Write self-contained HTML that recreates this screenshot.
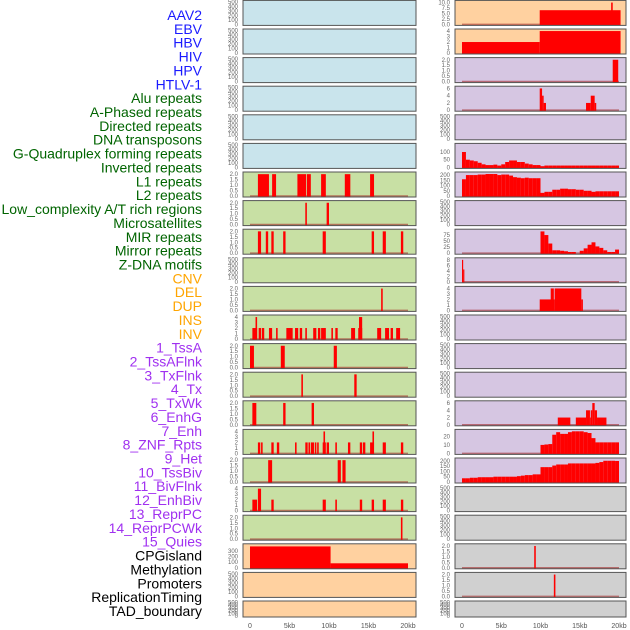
<!DOCTYPE html>
<html><head><meta charset="utf-8"><style>
html,body{margin:0;padding:0;background:#fff;}
svg{display:block;font-family:"Liberation Sans",sans-serif;}
</style></head><body>
<svg id="chart" width="630" height="630" viewBox="0 0 630 630"></svg>
<script>
const labels = ["AAV2","EBV","HBV","HIV","HPV","HTLV-1","Alu repeats","A-Phased repeats","Directed repeats","DNA transposons","G-Quadruplex forming repeats","Inverted repeats","L1 repeats","L2 repeats","Low_complexity A/T rich regions","Microsatellites","MIR repeats","Mirror repeats","Z-DNA motifs","CNV","DEL","DUP","INS","INV","1_TssA","2_TssAFlnk","3_TxFlnk","4_Tx","5_TxWk","6_EnhG","7_Enh","8_ZNF_Rpts","9_Het","10_TssBiv","11_BivFlnk","12_EnhBiv","13_ReprPC","14_ReprPCWk","15_Quies","CPGisland","Methylation","Promoters","ReplicationTiming","TAD_boundary"];
const labelColors = ["#1a1aff","#1a1aff","#1a1aff","#1a1aff","#1a1aff","#1a1aff"].concat(Array(13).fill("#006400"),Array(5).fill("#ffa500"),Array(15).fill("#a030f0"),Array(5).fill("#000"));
const xTickLabels = ["0","5kb","10kb","15kb","20kb"];
const xTickValues = [0,5,10,15,20];
// bars: [startKb, endKb, value]
const aluBars = [[1.0,2.4,2],[2.8,3.3,2],[6.0,7.1,2],[7.2,7.7,2],[9.0,9.6,2],[12.0,12.7,2],[15.2,15.7,2]];
const aPhasedBars = [[7.0,7.2,2],[9.7,10.0,2]];
const directedBars = [[1.0,1.4,2],[2.0,2.3,2],[2.7,3.0,2],[4.2,4.5,2],[9.2,9.6,2],[15.4,15.7,2],[16.8,17.2,2],[19.1,19.4,2]];
const gquadBars = [[16.6,16.8,2]];
const invertedBars = [[0.3,0.9,2],[0.7,0.9,4],[1.1,1.4,2],[1.5,1.8,2],[2.4,2.8,2],[3.3,3.5,2],[4.6,5.4,2],[5.7,6.1,2],[6.3,6.6,2],[7.0,7.2,2],[8.0,8.4,2],[8.6,8.9,2],[9.0,9.6,2],[10.3,10.5,2],[10.8,11.1,2],[12.8,13.3,2],[13.7,14.2,2],[13.8,14.2,4],[16.1,16.6,2],[17.1,17.6,2],[17.8,18.1,2],[18.5,19.0,2]];
const l1Bars = [[0.0,0.5,2],[3.9,4.4,2],[10.6,11.0,2]];
const l2Bars = [[6.5,6.7,2],[13.2,13.5,2]];
const lowCompBars = [[0.3,0.8,2],[4.2,4.5,2],[7.8,8.1,2]];
const microBars = [[1.0,1.3,2],[1.4,1.6,2],[2.7,3.0,2],[3.4,3.7,2],[5.7,5.9,2],[7.0,7.3,2],[7.4,7.6,2],[7.7,8.1,2],[8.2,8.4,2],[8.5,8.7,2],[9.2,9.6,2],[9.3,9.5,4],[9.7,10.0,2],[10.8,11.0,2],[12.4,12.7,2],[13.9,14.2,2],[14.3,14.6,2],[15.2,15.7,2],[15.5,15.7,4],[16.8,17.2,2],[19.1,19.4,2]];
const mirBars = [[2.3,2.8,2],[11.1,11.5,2],[11.7,12.1,2]];
const mirrorBars = [[0.3,0.9,2],[1.0,1.4,4],[2.7,3.0,2],[9.2,9.6,2],[10.8,11.0,2],[13.9,14.2,2],[15.4,15.7,2],[16.8,17.2,2],[19.1,19.4,2]];
const zdnaBars = [[19.1,19.3,2]];
const cnvBars = [[0.0,10.2,380],[10.2,20.0,80]];
const insBars = [[9.9,20.2,6.5],[19.0,19.2,10]];
const invBars = [[0.0,9.9,2],[9.9,20.2,4]];
const tssABars = [[19.2,19.9,2]];
const tssAFlnkBars = [[9.9,10.2,6],[10.2,10.4,4],[10.4,10.7,2],[15.8,16.4,2],[16.4,16.9,4],[16.9,17.1,2]];
const txBins = [100,50,45,40,30,20,15,15,18,12,20,35,45,45,35,35,25,20,15,15,8,12,12,12,12,12,12,12,12,12,12,12,12,12,12,12,12,12,12,12];
const txWkBins = [160,200,200,200,205,205,210,210,210,200,205,205,195,180,175,170,175,170,170,170,30,40,40,60,60,70,70,65,65,60,60,50,50,40,45,45,45,45,45,45];
const enhBins = [0,0,0,0,0,0,0,0,0,0,0,0,0,0,0,0,0,0,0,0,90,75,40,12,12,10,8,5,5,0,10,20,35,45,28,22,12,5,5,15];
const znfBars = [[0.0,0.15,8],[0.15,0.3,4.5]];
const hetBars = [[9.9,11.8,2],[11.3,11.7,4],[11.8,15.2,4],[15.2,15.4,2]];
const reprPCBars = [[12.2,13.8,2],[14.5,15.8,2],[15.8,16.3,4],[16.3,16.4,2],[16.4,16.6,4],[16.6,16.9,6],[16.9,17.2,4],[17.2,18.4,2]];
const reprPCWkBins = [0,0,0,0,0,0,0,0,0,0,0,0,0,0,0,0,0,0,0,0,10,10.5,11,22,25,23,23,25,26,26,26,25,24,18,13,13,13,13,13,13];
const quiesBins = [35,35,40,40,45,45,45,45,50,50,50,50,50,50,55,60,65,65,72,72,140,140,140,155,165,165,165,175,175,175,175,175,175,175,180,188,200,200,200,198];
const promoterBars = [[9.2,9.4,2]];
const replBars = [[11.7,11.9,2]];

const C = {blue:"#c9e4ec",green:"#c8e0a4",orange:"#ffd1a0",purple:"#d6c6e2",gray:"#d0d0d0"};
const E = {ticks:[0,100,200,300,400,500],lim:500};
const T2 = [0,0.5,1,1.5,2], T4=[0,1,2,3,4];
function bins(a){const out=[];a.forEach((v,i)=>{if(v>0)out.push([i*0.5,i*0.5+0.5,v]);});return out;}
const leftPanels = [
 {bg:C.blue,...E},{bg:C.blue,...E},{bg:C.blue,...E},{bg:C.blue,...E},{bg:C.blue,...E},{bg:C.blue,...E},
 {bg:C.green,ticks:T2,lim:2.06,bars:aluBars},
 {bg:C.green,ticks:T2,lim:2.06,bars:aPhasedBars},
 {bg:C.green,ticks:T2,lim:2.06,bars:directedBars},
 {bg:C.green,...E},
 {bg:C.green,ticks:T2,lim:2.06,bars:gquadBars},
 {bg:C.green,ticks:T4,lim:4.1,bars:invertedBars},
 {bg:C.green,ticks:T2,lim:2.06,bars:l1Bars},
 {bg:C.green,ticks:T2,lim:2.06,bars:l2Bars},
 {bg:C.green,ticks:T2,lim:2.06,bars:lowCompBars},
 {bg:C.green,ticks:T4,lim:4.1,bars:microBars},
 {bg:C.green,ticks:T2,lim:2.06,bars:mirBars},
 {bg:C.green,ticks:T4,lim:4.1,bars:mirrorBars},
 {bg:C.green,ticks:T2,lim:2.06,bars:zdnaBars},
 {bg:C.orange,ticks:[0,100,200,300],lim:400,bars:cnvBars},
 {bg:C.orange,...E},{bg:C.orange,...E}
];
const rightPanels = [
 {bg:C.orange,ticks:[0,2.5,5,7.5,10],lim:10.3,bars:insBars},
 {bg:C.orange,ticks:T4,lim:4.1,bars:invBars},
 {bg:C.purple,ticks:T2,lim:2.06,bars:tssABars},
 {bg:C.purple,ticks:[0,2,4,6],lim:6.2,bars:tssAFlnkBars},
 {bg:C.purple,...E},
 {bg:C.purple,ticks:[0,50,100],lim:146,bars:bins(txBins)},
 {bg:C.purple,ticks:[0,50,100,150,200],lim:215,bars:bins(txWkBins)},
 {bg:C.purple,...E},
 {bg:C.purple,ticks:[0,25,50,75],lim:93,bars:bins(enhBins)},
 {bg:C.purple,ticks:[0,2,4,6,8],lim:8.2,bars:znfBars},
 {bg:C.purple,ticks:T4,lim:4.1,bars:hetBars},
 {bg:C.purple,...E},{bg:C.purple,...E},{bg:C.purple,...E},
 {bg:C.purple,ticks:[0,2,4,6],lim:6.2,bars:reprPCBars},
 {bg:C.purple,ticks:[0,10,20],lim:26.5,bars:bins(reprPCWkBins)},
 {bg:C.purple,ticks:[0,50,100,150,200],lim:212,bars:bins(quiesBins)},
 {bg:C.gray,...E},{bg:C.gray,...E},
 {bg:C.gray,ticks:T2,lim:2.06,bars:promoterBars},
 {bg:C.gray,ticks:T2,lim:2.06,bars:replBars},
 {bg:C.gray,...E}
];
const NS="http://www.w3.org/2000/svg";
const svg=document.getElementById('chart');
function mk(t,a,p){const e=document.createElementNS(NS,t);for(const k in a)e.setAttribute(k,a[k]);(p||svg).appendChild(e);return e;}
labels.forEach((l,i)=>{
 const t=mk('text',{x:202,y:20+i*13.86,'text-anchor':'end','font-size':'14',fill:labelColors[i]});
 t.textContent=l;
 
 
});
function fmtTick(v,ticks){const dec=ticks.some(t=>t%1!==0)?1:0;return dec?v.toFixed(1):String(v);}
function drawColumn(panels,x0,x1,zeroX,pxPerKb,col){
 const xs=kb=>zeroX+kb*pxPerKb;
 panels.forEach((p,i)=>{
  const top=0.4+i*28.6, h=(i===21)?16:25, bot=top+h;
  const g=mk('g',{});
  
  
  mk('rect',{x:x0,y:top,width:x1-x0,height:h,fill:p.bg},g);
  const ys=v=>bot-1-v/p.lim*(h-2.5);
  if(p.bars){
   mk('line',{x1:xs(0),x2:xs(20),y1:ys(0),y2:ys(0),stroke:'rgba(160,30,30,0.55)','stroke-width':1.6},g);
   p.bars.forEach(b=>{
    const r=mk('rect',{x:xs(b[0]),y:ys(b[2]),width:Math.max(0.8,xs(b[1])-xs(b[0])),height:ys(0)-ys(b[2])+1,fill:'#ff0000'},g);
    
    
   });
  }
  mk('rect',{x:x0,y:top,width:x1-x0,height:h,fill:'none',stroke:'#555','stroke-width':1},g);
  p.ticks.forEach(t=>{
   const tx=mk('text',{x:x0-5,y:ys(t)+2,'text-anchor':'end','font-size':'6',fill:'#666'},g);
   tx.textContent=fmtTick(t,p.ticks);
  });
 });
 xTickValues.forEach((v,k)=>{
  const t=mk('text',{x:xs(v),y:628,'text-anchor':'middle','font-size':'7',fill:'#555'});
  t.textContent=xTickLabels[k];
  
  
 });
}
drawColumn(leftPanels,243,416,250,7.9,'left');
drawColumn(rightPanels,455,626,462,7.85,'right');
</script>
</body></html>
